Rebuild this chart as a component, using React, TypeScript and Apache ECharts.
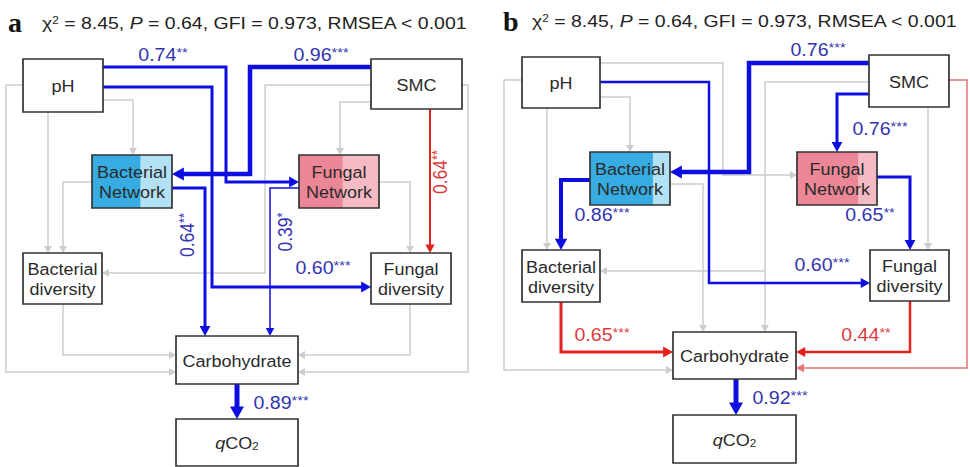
import React, { useEffect, useRef } from 'react';
import * as echarts from 'echarts';

// ---------- data ----------
const panelLetters = ['a', 'b'];
const fitStatValues = ['8.45', '0.64', '0.973', '0.001'];
const nodeNames = ['pH', 'SMC', 'Bacterial\nNetwork', 'Fungal\nNetwork', 'Bacterial\ndiversity', 'Fungal\ndiversity', 'Carbohydrate', 'qCO2'];
const coefA = ['0.74', '0.96', '0.60', '0.64', '0.39', '0.64', '0.89'];
const sigA = ['**', '***', '***', '**', '*', '**', '***'];
const coefB = ['0.76', '0.76', '0.60', '0.86', '0.65', '0.92', '0.65', '0.44'];
const sigB = ['***', '***', '***', '***', '**', '***', '***', '**'];

// ---------- layout ----------
type Box = [number, number, number, number];
const boxesA: Box[] = [[23, 59, 80, 53], [371, 59, 91, 50], [92, 155, 80, 53], [299, 155, 80, 53], [23, 253, 79, 51], [371, 253, 80, 51], [176, 336, 122, 48], [176, 419, 122, 47]];
const boxesB: Box[] = [[522, 57, 78, 51], [869, 55, 80, 52], [590, 152, 80, 53], [797, 152, 80, 53], [522, 250, 78, 52], [870, 250, 79, 51], [673, 332, 123, 47], [673, 415, 123, 48]];
const networkSplit = { a: [0.6, 0.54], b: [0.78, 0.76] };

type Path = { pts: number[][]; c: string; w: number; k?: number; lp?: number[]; rot?: boolean };
const pathsA: Path[] = [
  { pts: [[103, 67], [226, 67], [226, 182], [299, 182]], c: 'blue', w: 3, k: 0, lp: [163, 55] },
  { pts: [[371, 67], [250, 67], [250, 174], [172, 174]], c: 'blue', w: 4.5, k: 1, lp: [321, 55] },
  { pts: [[103, 87], [212, 87], [212, 287], [371, 287]], c: 'blue', w: 3, k: 2, lp: [323, 268] },
  { pts: [[172, 188], [205, 188], [205, 336]], c: 'blue', w: 3, k: 3, lp: [187, 235], rot: true },
  { pts: [[299, 188], [270, 188], [270, 336]], c: 'blue', w: 1.5, k: 4, lp: [285, 232], rot: true },
  { pts: [[430, 109], [430, 253]], c: 'red', w: 2, k: 5, lp: [440, 172], rot: true },
  { pts: [[237, 384], [237, 419]], c: 'blue', w: 5, k: 6, lp: [281, 403] },
];
const grayA: number[][][] = [
  [[23, 85], [6, 85], [6, 372], [176, 372]],
  [[462, 85], [468, 85], [468, 372], [298, 372]],
  [[103, 100], [133, 100], [133, 155]],
  [[48, 112], [48, 253]],
  [[92, 182], [63, 182], [63, 253]],
  [[371, 85], [265, 85], [265, 273], [102, 273]],
  [[371, 102], [340, 102], [340, 155]],
  [[379, 182], [410, 182], [410, 253]],
  [[63, 304], [63, 355], [176, 355]],
  [[410, 304], [410, 355], [298, 355]],
];
const pathsB: Path[] = [
  { pts: [[869, 63], [749, 63], [749, 172], [670, 172]], c: 'blue', w: 4.5, k: 0, lp: [818, 50] },
  { pts: [[869, 94], [837, 94], [837, 152]], c: 'blue', w: 3, k: 1, lp: [880, 129] },
  { pts: [[600, 82], [709, 82], [709, 283], [870, 283]], c: 'blue', w: 2.5, k: 2, lp: [822, 265] },
  { pts: [[590, 180], [561, 180], [561, 250]], c: 'blue', w: 4, k: 3, lp: [602, 215] },
  { pts: [[877, 177], [910, 177], [910, 250]], c: 'blue', w: 3, k: 4, lp: [870, 215] },
  { pts: [[736, 379], [736, 415]], c: 'blue', w: 5, k: 5, lp: [780, 398] },
  { pts: [[561, 302], [561, 352], [673, 352]], c: 'red', w: 3, k: 6, lp: [602, 335] },
  { pts: [[910, 301], [910, 352], [796, 352]], c: 'red', w: 2.5, k: 7, lp: [866, 335] },
  { pts: [[949, 80], [967, 80], [967, 368], [796, 368]], c: 'pink', w: 1.5 },
];
const grayB: number[][][] = [
  [[522, 80], [504, 80], [504, 370], [673, 370]],
  [[600, 97], [630, 97], [630, 152]],
  [[547, 108], [547, 250]],
  [[600, 63], [723, 63], [723, 175], [797, 175]],
  [[670, 184], [703, 184], [703, 332]],
  [[869, 82], [765, 82], [765, 271], [600, 271]],
  [[765, 271], [765, 332]],
  [[928, 107], [928, 250]],
];

// ---------- styles ----------
const FONT = '"Liberation Sans", Arial, sans-serif';
const lineColors: Record<string, string> = { blue: '#0e0ee0', red: '#e3211f', pink: '#e8717a', gray: '#cdcdcd' };
const labelColors: Record<string, string> = { blue: '#3434b0', red: '#dd3b3b' };

function arrow(pts: number[][], color: string, w: number, gray = false): any[] {
  const n = pts.length;
  const [x1, y1] = pts[n - 2];
  const [x2, y2] = pts[n - 1];
  const L = Math.hypot(x2 - x1, y2 - y1);
  const ux = (x2 - x1) / L, uy = (y2 - y1) / L;
  const hl = gray ? 7 : 6 + w * 1.3;
  const hw = gray ? 4 : 3 + w * 0.8;
  const bx = x2 - ux * hl, by = y2 - uy * hl;
  const linePts = pts.slice(0, n - 1).concat([[bx + ux * 1.5, by + uy * 1.5]]);
  return [
    { type: 'polyline', shape: { points: linePts }, style: { stroke: color, lineWidth: w, fill: null, lineJoin: 'miter' }, silent: true },
    { type: 'polygon', shape: { points: [[x2, y2], [bx - uy * hw, by + ux * hw], [bx + uy * hw, by - ux * hw]] }, style: { fill: color }, silent: true },
  ];
}

function coefLabel(p: Path, coef: string[], sig: string[]): any {
  const col = labelColors[p.c] || labelColors.blue;
  return {
    type: 'text',
    x: p.lp![0],
    y: p.lp![1],
    rotation: p.rot ? Math.PI / 2 : 0,
    scaleX: p.rot ? 1 : 1.12,
    scaleY: p.rot ? 1.12 : 1,
    style: {
      text: `{v|${coef[p.k!]}}{s|${sig[p.k!]}}`,
      align: 'center',
      verticalAlign: 'middle',
      rich: {
        v: { fontSize: 17.5, fontFamily: FONT, fill: col },
        s: { fontSize: 13, fontFamily: FONT, fill: col, verticalAlign: 'top' },
      },
    },
    silent: true,
  };
}

function boxEls(boxes: Box[], split: number[]): any[] {
  const els: any[] = [];
  boxes.forEach((b, i) => {
    let fill: any = '#ffffff';
    if (i === 2 || i === 3) {
      const s = split[i - 2];
      const c1 = i === 2 ? '#37ace2' : '#ec8798';
      const c2 = i === 2 ? '#b3e1f4' : '#f6bac4';
      fill = new echarts.graphic.LinearGradient(0, 0, 1, 0, [
        { offset: 0, color: c1 }, { offset: s, color: c1 }, { offset: s + 0.01, color: c2 }, { offset: 1, color: c2 },
      ]);
    }
    els.push({ type: 'rect', shape: { x: b[0], y: b[1], width: b[2], height: b[3] }, style: { fill, stroke: '#333333', lineWidth: 1.7 }, silent: true });
    const name = nodeNames[i];
    const isQ = name === 'qCO2';
    els.push({
      type: 'text',
      x: b[0] + b[2] / 2,
      y: b[1] + b[3] / 2 + 1,
      scaleX: 1.06,
      style: isQ
        ? {
            text: '{i|q}{n|CO}{sub|2}',
            align: 'center',
            verticalAlign: 'middle',
            rich: {
              i: { fontSize: 17, fontFamily: FONT, fontStyle: 'italic', fill: '#2a2a2a' },
              n: { fontSize: 17, fontFamily: FONT, fill: '#2a2a2a' },
              sub: { fontSize: 11, fontFamily: FONT, fill: '#2a2a2a', verticalAlign: 'bottom' },
            },
          }
        : {
            text: name,
            align: 'center',
            verticalAlign: 'middle',
            fontSize: 17,
            lineHeight: 20,
            fontFamily: FONT,
            fill: '#2a2a2a',
          },
      silent: true,
    });
  });
  return els;
}

function titleEls(letter: string, lx: number, ly: number, tx: number, ty: number): any[] {
  const [chi, p, gfi, rmsea] = fitStatValues;
  return [
    { type: 'text', x: lx, y: ly, style: { text: letter, fontSize: 28, fontWeight: 'bold', fontFamily: '"Liberation Serif", "Times New Roman", serif', fill: '#111', align: 'left', verticalAlign: 'bottom' }, silent: true },
    {
      type: 'text', x: tx, y: ty, scaleX: 1.18,
      style: {
        text: `{t|χ}{sup|2}{t| = ${chi}, }{it|P}{t| = ${p}, GFI = ${gfi}, RMSEA < ${rmsea}}`,
        align: 'left', verticalAlign: 'middle',
        rich: {
          t: { fontSize: 16.5, fontFamily: FONT, fill: '#222' },
          sup: { fontSize: 10, fontFamily: FONT, fill: '#222', verticalAlign: 'top' },
          it: { fontSize: 16.5, fontFamily: FONT, fontStyle: 'italic', fill: '#222' },
        },
      },
      silent: true,
    },
  ];
}

function buildElements(): any[] {
  const els: any[] = [];
  els.push({ type: 'rect', shape: { x: 0, y: 0, width: 970, height: 467 }, style: { fill: '#ffffff' }, silent: true });
  [...grayA, ...grayB].forEach((g) => els.push(...arrow(g, lineColors.gray, 1.5, true)));
  [...pathsA, ...pathsB].forEach((p) => els.push(...arrow(p.pts, lineColors[p.c], p.w)));
  els.push(...boxEls(boxesA, networkSplit.a));
  els.push(...boxEls(boxesB, networkSplit.b));
  pathsA.forEach((p) => { if (p.k !== undefined) els.push(coefLabel(p, coefA, sigA)); });
  pathsB.forEach((p) => { if (p.k !== undefined) els.push(coefLabel(p, coefB, sigB)); });
  els.push(...titleEls(panelLetters[0], 8, 36, 42, 24));
  els.push(...titleEls(panelLetters[1], 503, 35, 532, 22));
  return els;
}

export default function App() {
  const ref = useRef<HTMLDivElement>(null);
  useEffect(() => {
    const chart = echarts.init(ref.current!, null, { renderer: 'svg' });
    chart.setOption({ animation: false, backgroundColor: '#ffffff', graphic: { elements: buildElements() } });
    return () => chart.dispose();
  }, []);
  return <div ref={ref} style={{ position: 'fixed', left: 0, top: 0, width: 970, height: 467, background: '#fff' }} />;
}
